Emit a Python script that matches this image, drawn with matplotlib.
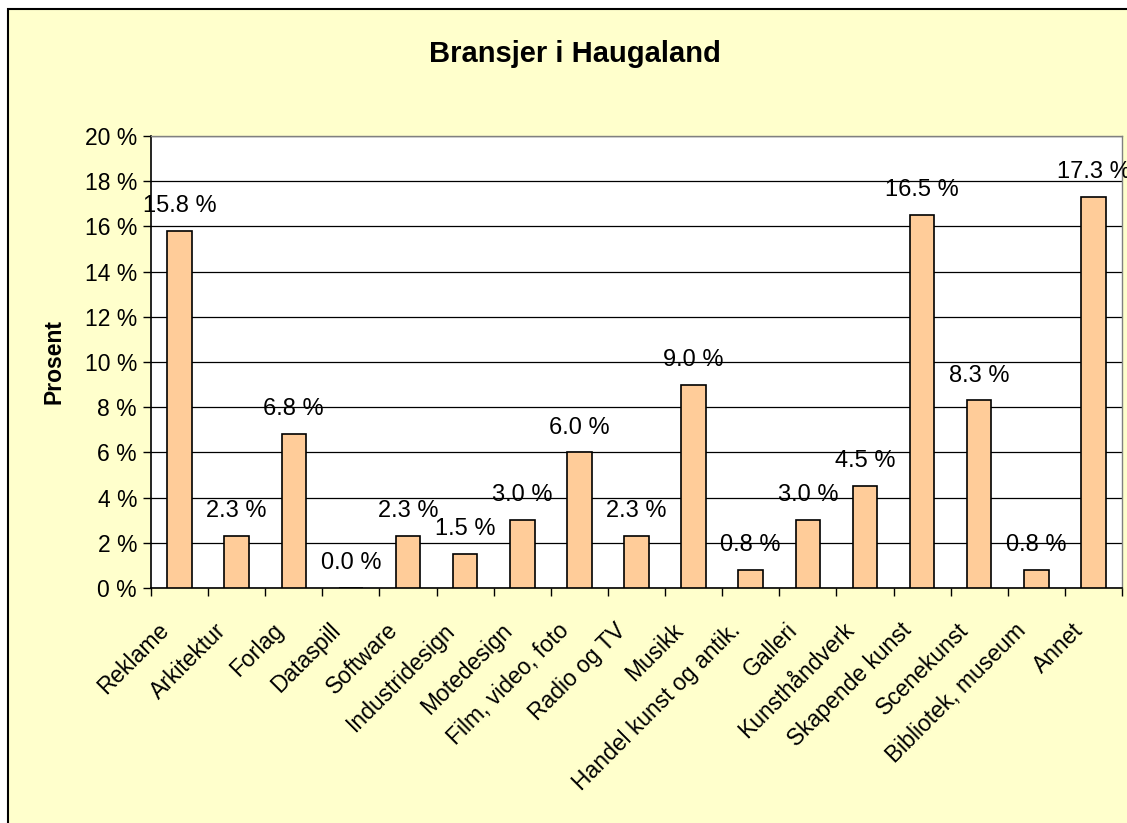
import matplotlib
matplotlib.use("Agg")
import matplotlib.pyplot as plt
import matplotlib.transforms as mtransforms
import numpy as np
from matplotlib.patches import Rectangle

plt.rcParams['font.family'] = ['Liberation Sans', 'DejaVu Sans']

# data
bransjer = ['Reklame', 'Arkitektur', 'Forlag', 'Dataspill', 'Software',
            'Industridesign', 'Motedesign', 'Film, video, foto', 'Radio og TV',
            'Musikk', 'Handel kunst og antik.', 'Galleri', 'Kunsthåndverk',
            'Skapende kunst', 'Scenekunst', 'Bibliotek, museum', 'Annet']
prosent = [15.8, 2.3, 6.8, 0.0, 2.3, 1.5, 3.0, 6.0, 2.3, 9.0, 0.8, 3.0,
           4.5, 16.5, 8.3, 0.8, 17.3]
y_ticks = [0, 2, 4, 6, 8, 10, 12, 14, 16, 18, 20]

W, H = 1127, 823
fig = plt.figure(figsize=(W / 100, H / 100), dpi=100, facecolor='white')

# yellow chart area with black border (runs off right/bottom edge)
fig.patches.append(Rectangle((8 / W, -0.05), 1.2, 1 - 9 / H + 0.05,
                             transform=fig.transFigure, facecolor='#FFFFCC',
                             edgecolor='black', linewidth=1.5, zorder=-10))

ax = fig.add_axes([151 / W, 1 - 588 / H, (1122 - 151) / W, (588 - 136) / H])
ax.set_facecolor('white')

x = np.arange(len(bransjer))
ax.bar(x, prosent, width=0.43, color='#FFCC99', edgecolor='black',
       linewidth=1.2, zorder=3)

for xi, v in zip(x, prosent):
    ax.annotate(f'{v:.1f} %', (xi, v), xytext=(0, 10),
                textcoords='offset points', ha='center', va='bottom',
                fontsize=17, zorder=5, annotation_clip=False)

ax.set_xlim(-0.5, len(bransjer) - 0.5)
ax.set_ylim(0, 20)
ax.set_yticks(y_ticks)
ax.set_yticklabels([f'{t} %' for t in y_ticks], fontsize=16.5)
ax.yaxis.grid(True, color='black', linewidth=0.9, zorder=0)
ax.set_axisbelow(True)

ax.set_xticks(x)
ax.set_xticklabels(bransjer, rotation=45, ha='right', va='top',
                   rotation_mode='anchor', fontsize=16.5)
ax.tick_params(axis='x', length=0, pad=12)
shift = mtransforms.ScaledTranslation(-0.22, -0.14, fig.dpi_scale_trans)
for lbl in ax.get_xticklabels():
    lbl.set_transform(lbl.get_transform() + shift)
ax.set_xticks(np.arange(-0.5, len(bransjer), 1), minor=True)
ax.tick_params(axis='x', which='minor', length=6, width=1, direction='out')
ax.tick_params(axis='y', length=6, width=1, direction='out', pad=4)

for side in ['top', 'right']:
    ax.spines[side].set_color('#808080')
    ax.spines[side].set_linewidth(1)
for side in ['left', 'bottom']:
    ax.spines[side].set_color('black')
    ax.spines[side].set_linewidth(1.2)

ax.set_ylabel('Prosent', fontsize=16.5, fontweight='bold', labelpad=14)
fig.text(575 / W, 1 - 54 / H, 'Bransjer i Haugaland', ha='center',
         va='center', fontsize=21, fontweight='bold')

fig.savefig('out.png', dpi=100, facecolor=fig.get_facecolor())
